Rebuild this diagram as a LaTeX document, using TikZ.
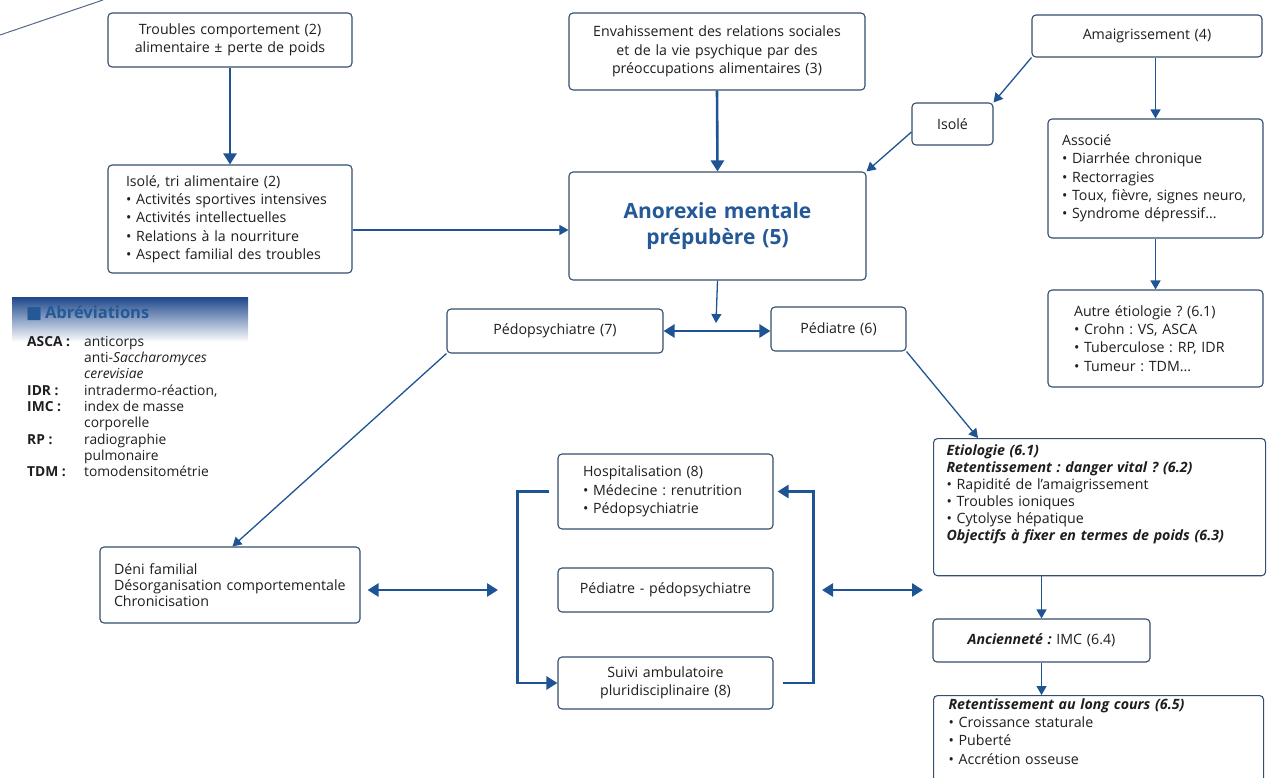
\documentclass[tikz,border=0pt]{standalone}
\usepackage{fontspec}
\setmainfont{Open Sans}
\newfontfamily\symfont{DejaVu Sans}
\usetikzlibrary{arrows.meta,positioning}
\frenchspacing

\definecolor{boxline}{RGB}{52,78,110}
\definecolor{linkblue}{RGB}{30,84,148}
\definecolor{titleblue}{RGB}{36,88,150}
\definecolor{hdrblue}{RGB}{30,72,140}
\definecolor{inktext}{RGB}{30,30,30}

\newcommand{\abbrkey}[1]{\makebox[57pt][l]{\textbf{#1}}}

\tikzset{
  box/.style={draw=boxline, line width=1.1pt, rounded corners=4pt, fill=white,
    text=inktext, inner xsep=10pt, inner ysep=3pt,
    font=\fontsize{14.2}{18.3}\selectfont},
  lbox/.style={box, align=left},
  cbox/.style={box, align=center},
  biglink/.style={draw=linkblue, line width=2.6pt, >={Triangle[length=11pt,width=13pt]}},
  thinlink/.style={draw=linkblue, line width=1.3pt, >={Triangle[length=9pt,width=10pt]}},
}

\begin{document}
\begin{tikzpicture}[x=1pt,y=-1pt]
        \useasboundingbox (0,0) rectangle (1268,778);

        % left column
        \node[cbox, text width=224pt, minimum height=54pt]  (trbl) at (230,40)
              {Troubles comportement (2)\\\mbox{alimentaire ± perte de poids}};
        \node[lbox, text width=208pt, inner xsep=18pt, minimum height=108pt] (isol) at (230,219)
              {Isolé, tri alimentaire (2)\\• \mbox{Activités sportives intensives}\\• Activités intellectuelles\\
               • Relations à la nourriture\\• \mbox{Aspect familial des troubles}};

        % centre
        \node[cbox, text width=276pt, minimum height=77pt]  (env) at (717,51.5)
              {\mbox{Envahissement des relations sociales}\\et de la vie psychique par des\\préoccupations alimentaires (3)};
        \node[cbox, text width=277pt, minimum height=108pt, text=titleblue,
              font=\fontsize{21}{26.7}\selectfont\bfseries] (anor) at (717.5,226)
              {Anorexie mentale\\prépubère (5)};
        \coordinate (meet) at (716,323);

        % right column
        \node[cbox, text width=210pt, minimum height=42pt]  (amai) at (1147,36) {Amaigrissement (4)};
        \node[cbox, text width=61pt, minimum height=42pt]   (isole) at (952.5,124) {Isolé};
        \node[lbox, text width=187pt, inner xsep=14pt, minimum height=119pt] (asso) at (1155.5,178.5)
              {Associé\\• Diarrhée chronique\\• Rectorragies\\• \mbox{Toux, fièvre, signes neuro,}\\• Syndrome dépressif...};
        \node[lbox, text width=163pt, inner xsep=26pt, minimum height=97pt] (autr) at (1155.5,338.5)
              {\mbox{Autre étiologie ? (6.1)}\\• Crohn : VS, ASCA\\• \mbox{Tuberculose : RP, IDR}\\• Tumeur : TDM...};

        % middle row
        \node[cbox, text width=196pt, minimum height=44pt]  (pedo) at (555,331) {Pédopsychiatre (7)};
        \node[cbox, text width=115pt, minimum height=44pt]  (pedi) at (838.5,329) {Pédiatre (6)};

        % lower part
        \node[lbox, text width=232pt, inner xsep=14pt, minimum height=76pt,
              font=\fontsize{14.2}{16}\selectfont] (deni) at (230,585)
              {Déni familial\\\mbox{Désorganisation comportementale}\\Chronicisation};
        \node[lbox, text width=165pt, inner xsep=25pt, minimum height=75pt] (hosp) at (665.5,491.5)
              {Hospitalisation (8)\\• \mbox{Médecine : renutrition}\\• Pédopsychiatrie};
        \node[cbox, text width=195pt, minimum height=44pt]  (pp) at (665.5,590) {\mbox{Pédiatre - pédopsychiatre}};
        \node[cbox, text width=195pt, minimum height=52pt]  (suiv) at (665.5,683)
              {Suivi ambulatoire\\pluridisciplinaire (8)};
        \coordinate (lpL) at (498,590);
        \coordinate (lpR) at (822,590);

        \node[lbox, anchor=north west, text width=306pt, inner xsep=13pt, inner ysep=6pt,
              font=\fontsize{14.2}{17}\selectfont] (etio) at (933,438)
              {\textbf{\textit{Etiologie (6.1)}}\\\textbf{\textit{Retentissement : danger vital ? (6.2)}}\\
               • Rapidité de l’amaigrissement\\• Troubles ioniques\\• Cytolyse hépatique\\
               \mbox{\textbf{\textit{Objectifs à fixer en termes de poids (6.3)}}}\par\vspace*{26pt}};
        \node[cbox, text width=197pt, minimum height=43pt]  (anci) at (1041.5,640.5)
              {\textbf{\textit{Ancienneté :}} IMC (6.4)};
        \node[lbox, anchor=north west, text width=300pt, inner xsep=15pt, inner ysep=3pt] (rete) at (933,695)
              {\textbf{\textit{Retentissement au long cours (6.5)}}\\• Croissance staturale\\• Puberté\\
               • Accrétion osseuse\par\vspace*{24pt}};

        % abbreviations
        \shade[top color=hdrblue, middle color=hdrblue!22, bottom color=white] (12,297) rectangle (248,342);
        \node[anchor=west, inner sep=0pt, text=titleblue,
              font=\fontsize{16.5}{18}\selectfont\bfseries] (abbrhd) at (26,313)
              {\raisebox{0.5pt}{\symfont\fontsize{17}{17}\selectfont■}\,Abréviations};
        \node[anchor=north west, align=left, inner sep=0pt, text=inktext,
              font=\fontsize{13.8}{16.3}\selectfont] (abbr) at (27,336)
              {\abbrkey{ASCA :}anticorps\\\abbrkey{}anti-\textit{Saccharomyces}\\\abbrkey{}\textit{cerevisiae}\\
               \abbrkey{IDR :}intradermo-réaction,\\\abbrkey{IMC :}index de masse\\\abbrkey{}corporelle\\
               \abbrkey{RP :}radiographie\\\abbrkey{}pulmonaire\\\abbrkey{TDM :}tomodensitométrie};

        % cut line top left
        \coordinate (cutA) at (0,35);
        \coordinate (cutB) at (103,0);
        \draw[draw=boxline!85, line width=1pt] (cutA) -- (cutB);

        % links
        \draw[biglink,->] (trbl.south) -- (isol.north);
        \draw[biglink,->] (env.south) -- (anor.north);
        \draw[thinlink,->] ([yshift=-11pt]isol.east) -- ([yshift=-4pt]anor.west);
        \draw[thinlink,->] (amai.south west) -- (isole.north east);
        \draw[thinlink,->] ([yshift=-8pt]isole.west) -- (anor.north east);
        \draw[thinlink,->] (amai.south -| asso.north) -- (asso.north);
        \draw[thinlink,->] (asso.south) -- (autr.north);
        \draw[thinlink,->] (anor.south) -- (meet);
        \draw[biglink,<->] (pedo.east) -- (pedo.east -| pedi.west);
        \draw[thinlink,->] (pedo.south west) -- ([xshift=133pt]deni.north west);
        \draw[thinlink,->] (pedi.south east) -- ([xshift=45pt]etio.north west);
        \draw[biglink,<->,shorten <=7pt] (deni.east |- lpL) -- (lpL);
        \draw[biglink,<->,shorten >=10pt] (lpR) -- (etio.west |- lpR);
        \draw[biglink,->] ([xshift=-8pt]hosp.west) -- ++(-32,0) |- (suiv.west);
        \draw[biglink,->,shorten >=4pt] ([xshift=9pt]suiv.east) -- ++(31,0) |- (hosp.east);
        \draw[thinlink,->] (etio.south -| anci.north) -- (anci.north);
        \draw[thinlink,->] (anci.south) -- (anci.south |- rete.north);
\end{tikzpicture}
\end{document}
